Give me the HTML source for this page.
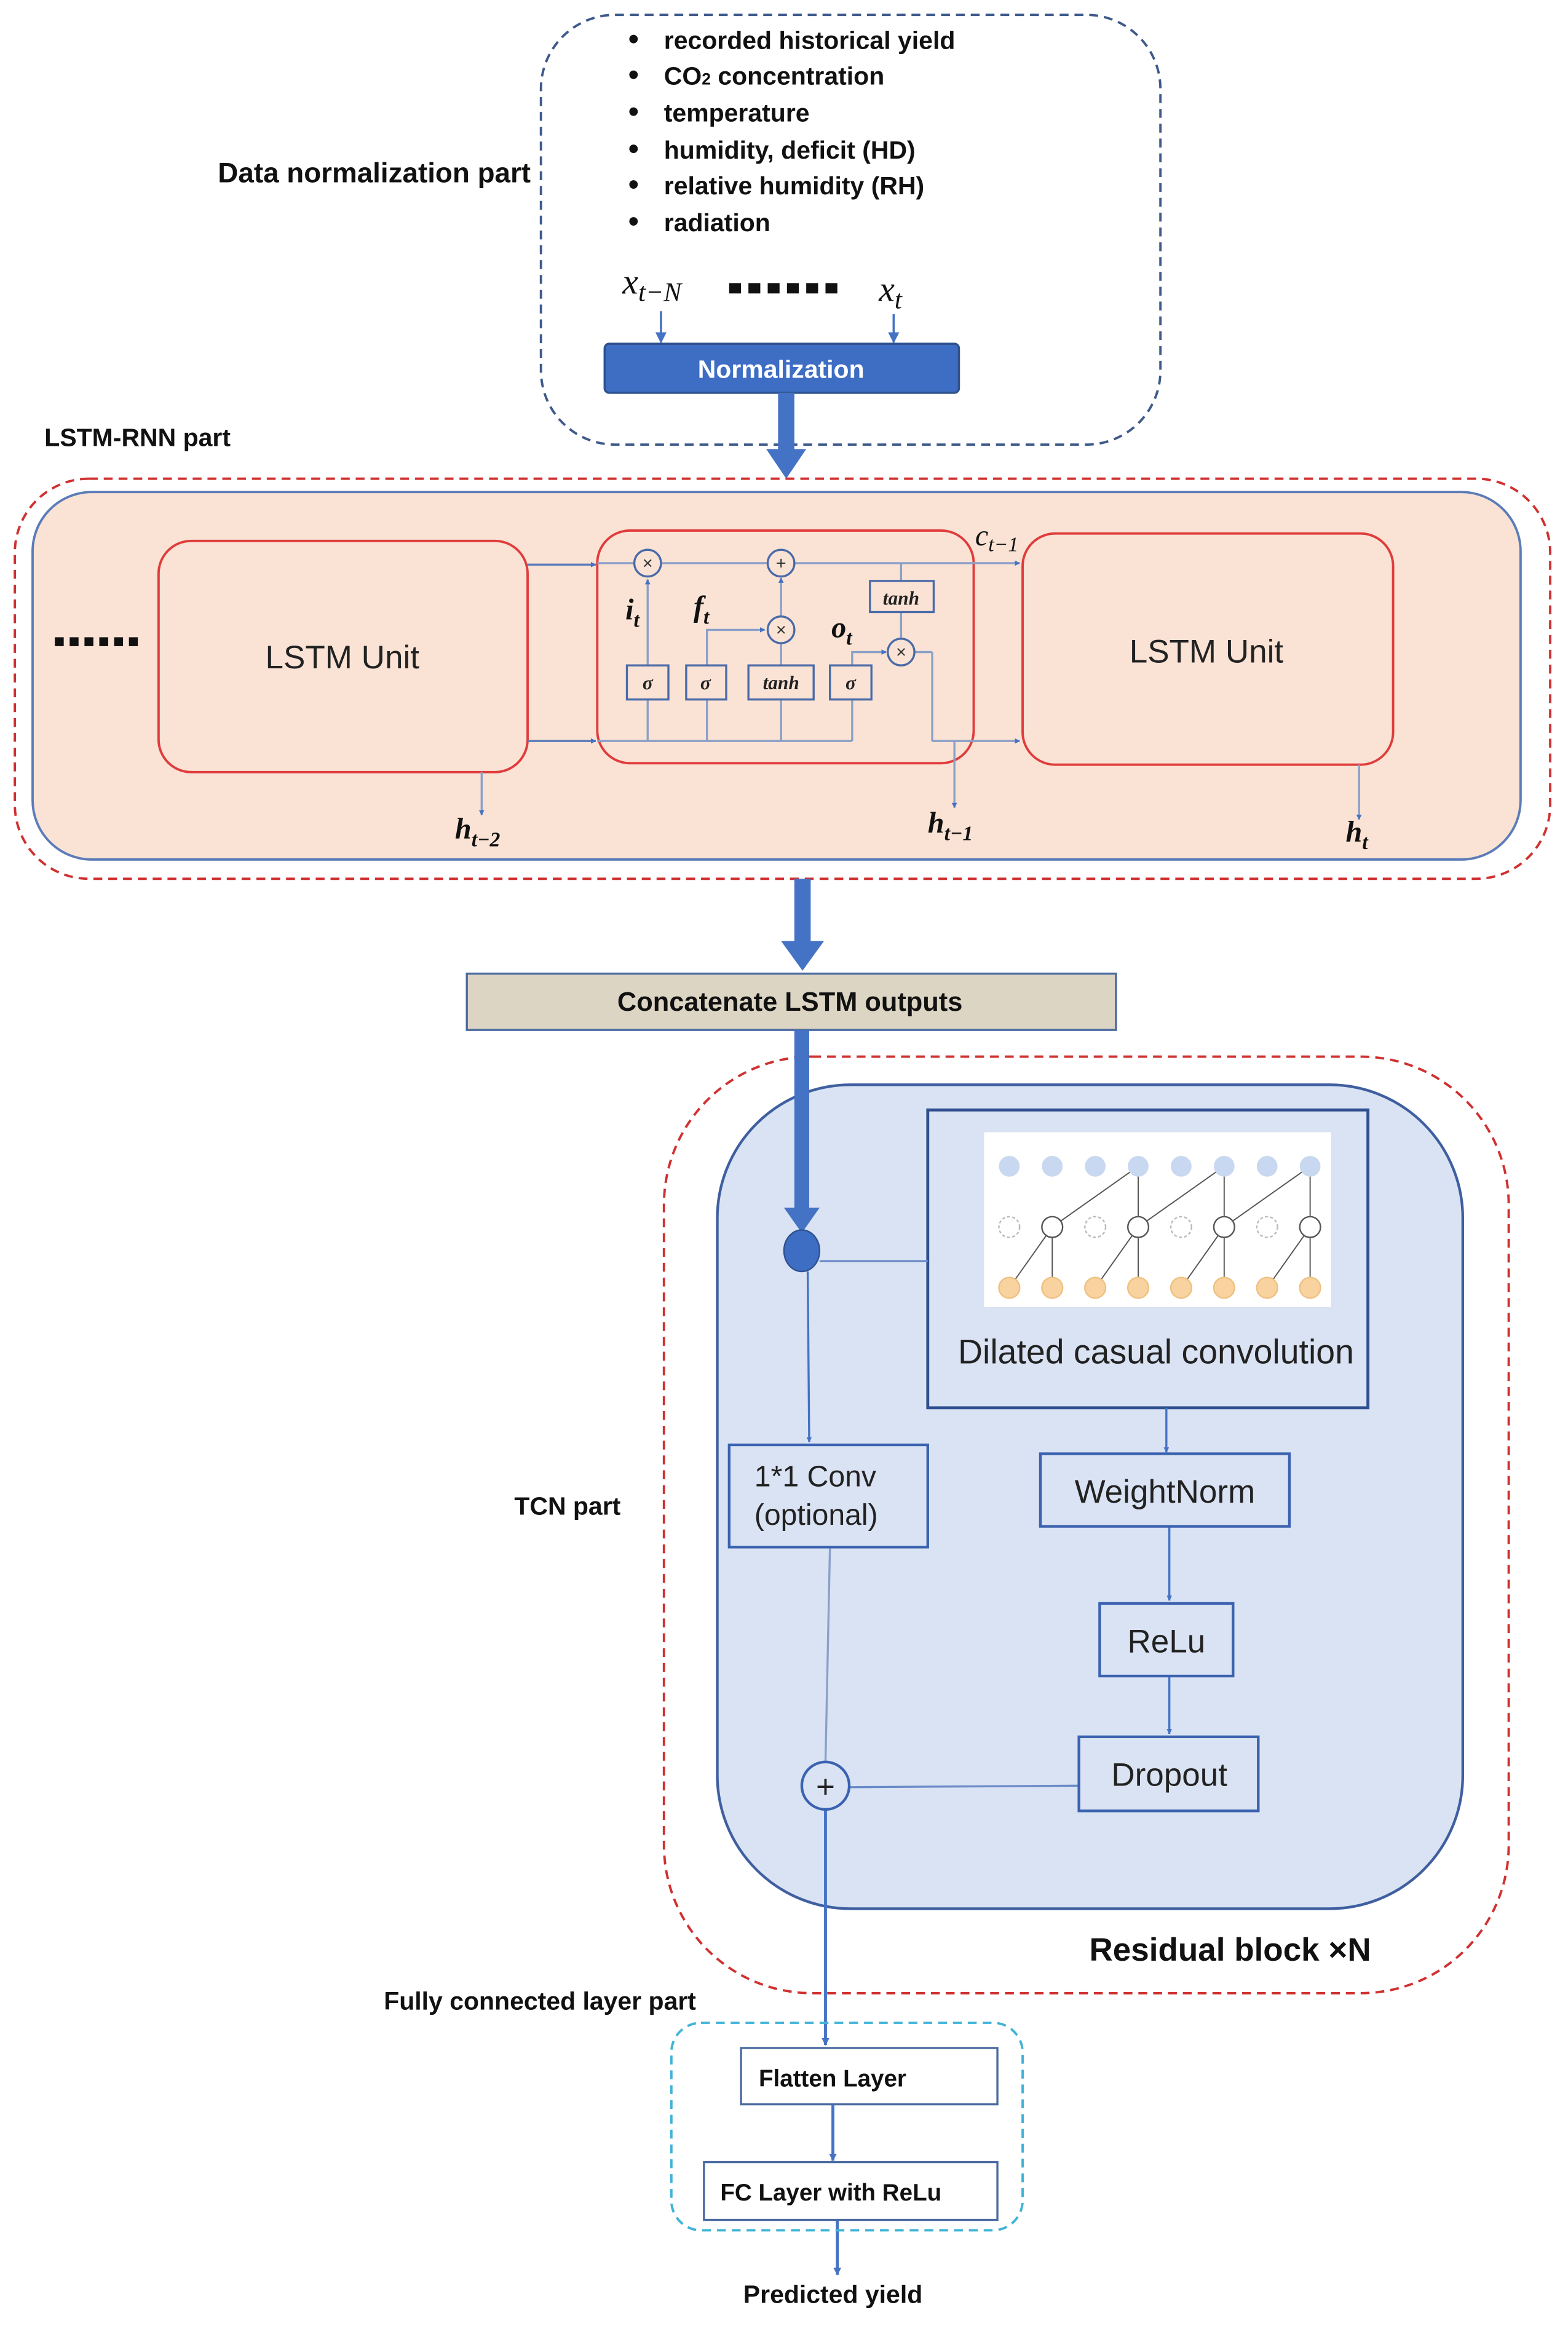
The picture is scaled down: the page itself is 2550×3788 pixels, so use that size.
<!DOCTYPE html>
<html><head><meta charset="utf-8"><style>html,body{margin:0;padding:0;background:#fff}svg{display:block}</style></head>
<body>
<svg width="2550" height="3788" viewBox="0 0 1058 1571.6" xmlns="http://www.w3.org/2000/svg" font-family="Liberation Sans, sans-serif">
<defs>
<marker id="a" viewBox="0 0 10 10" refX="9" refY="5" markerWidth="5" markerHeight="5" orient="auto"><path d="M0,0L10,5L0,10z" fill="#4472c4"/></marker>
<marker id="b" viewBox="0 0 10 10" refX="9" refY="5" markerWidth="2.6" markerHeight="2.6" orient="auto"><path d="M0,0L10,5L0,10z" fill="#4472c4"/></marker>
</defs>
<rect width="1058" height="1572" fill="#fff"/>
<rect x="365" y="10" width="418" height="290" rx="50" fill="none" stroke="#3f5a8a" stroke-width="1.6" stroke-dasharray="6,4"/>
<g font-size="17" font-weight="bold" fill="#111">
<text x="147" y="123" font-size="19">Data normalization part</text>
<g font-size="17">
<text x="448" y="33">recorded historical yield</text>
<text x="448" y="57">CO<tspan font-size="11">2</tspan> concentration</text>
<text x="448" y="82">temperature</text>
<text x="448" y="107">humidity, deficit (HD)</text>
<text x="448" y="131">relative humidity (RH)</text>
<text x="448" y="156">radiation</text>
</g>
<g font-size="20"><text x="424" y="33">•</text><text x="424" y="57">•</text><text x="424" y="82">•</text><text x="424" y="107">•</text><text x="424" y="131">•</text><text x="424" y="156">•</text></g>
<text x="30" y="301">LSTM-RNN part</text>
<text x="347" y="1022">TCN part</text>
<text x="259" y="1356">Fully connected layer part</text>
<text x="562" y="1554" text-anchor="middle">Predicted yield</text>
</g>
<g font-family="Liberation Serif, serif" font-style="italic" fill="#111">
<text x="420" y="198" font-size="24">x<tspan font-size="18" dy="5">t−N</tspan></text>
<text x="593" y="203" font-size="24">x<tspan font-size="18" dy="5">t</tspan></text>
</g>
<g fill="#111"><rect x="492" y="191" width="8" height="7"/><rect x="505" y="191" width="8" height="7"/><rect x="518" y="191" width="8" height="7"/><rect x="531" y="191" width="8" height="7"/><rect x="544" y="191" width="8" height="7"/><rect x="557" y="191" width="8" height="7"/></g>
<line x1="446" y1="210" x2="446" y2="231" stroke="#4472c4" stroke-width="1.5" marker-end="url(#a)"/>
<line x1="603" y1="212" x2="603" y2="231" stroke="#4472c4" stroke-width="1.5" marker-end="url(#a)"/>
<rect x="408" y="232" width="239" height="33" rx="3" fill="#3e6dc4" stroke="#2f528f" stroke-width="1.5"/>
<text x="527" y="255" text-anchor="middle" font-size="17" font-weight="bold" fill="#fff">Normalization</text>
<rect x="525" y="265" width="11" height="40" fill="#4472c4"/>
<path d="M517,303L544,303L530.5,323z" fill="#4472c4"/>
<rect x="10" y="323" width="1036" height="270" rx="50" fill="none" stroke="#d03030" stroke-width="1.6" stroke-dasharray="6,4"/>
<rect x="22" y="332" width="1004" height="248" rx="40" fill="#fae3d5" stroke="#5b7cb8" stroke-width="1.6"/>
<g fill="#111"><rect x="37" y="430" width="6" height="6"/><rect x="47" y="430" width="6" height="6"/><rect x="57" y="430" width="6" height="6"/><rect x="67" y="430" width="6" height="6"/><rect x="77" y="430" width="6" height="6"/><rect x="87" y="430" width="6" height="6"/></g>
<rect x="107" y="365" width="249" height="156" rx="22" fill="#fae3d5" stroke="#e03c3c" stroke-width="1.6"/>
<text x="231" y="451" text-anchor="middle" font-size="22" fill="#222">LSTM Unit</text>
<rect x="690" y="360" width="250" height="156" rx="22" fill="#fae3d5" stroke="#e03c3c" stroke-width="1.6"/>
<text x="814" y="447" text-anchor="middle" font-size="22" fill="#222">LSTM Unit</text>
<rect x="403" y="358" width="254" height="157" rx="22" fill="none" stroke="#e03c3c" stroke-width="1.6"/>
<g stroke="#8aa0c8" stroke-width="1.4" fill="none">
<line x1="356" y1="381" x2="402" y2="381" stroke="#5b7cb8" marker-end="url(#b)"/>
<line x1="403" y1="380" x2="428" y2="380"/>
<line x1="446" y1="380" x2="518" y2="380"/>
<line x1="536" y1="380" x2="688" y2="380" marker-end="url(#b)"/>
<line x1="356" y1="500" x2="402" y2="500" stroke="#5b7cb8" marker-end="url(#b)"/>
<line x1="403" y1="500" x2="575" y2="500"/>
<line x1="629" y1="500" x2="688" y2="500" marker-end="url(#b)"/>
<line x1="629" y1="440" x2="629" y2="500"/>
<line x1="617" y1="440" x2="629" y2="440"/>
<line x1="437" y1="472" x2="437" y2="500"/><line x1="437" y1="449" x2="437" y2="391" marker-end="url(#b)"/>
<line x1="477" y1="472" x2="477" y2="500"/><polyline points="477,449 477,425 516,425" marker-end="url(#b)"/>
<line x1="527" y1="472" x2="527" y2="500"/><line x1="527" y1="472" x2="527" y2="434"/><line x1="527" y1="416" x2="527" y2="390" marker-end="url(#b)"/>
<line x1="575" y1="472" x2="575" y2="500"/><polyline points="575,449 575,440 598,440" marker-end="url(#b)"/>
<line x1="608" y1="380" x2="608" y2="392"/><line x1="608" y1="413" x2="608" y2="431"/>
<line x1="644" y1="500" x2="644" y2="545" marker-end="url(#b)"/>
<line x1="325" y1="521" x2="325" y2="550" marker-end="url(#b)"/>
<line x1="917" y1="516" x2="917" y2="553" marker-end="url(#b)"/>
</g>
<g stroke="#4a6aa8" stroke-width="1.4" fill="#fae3d5">
<circle cx="437" cy="380" r="9"/><circle cx="527" cy="380" r="9"/><circle cx="527" cy="425" r="9"/><circle cx="608" cy="440" r="9"/>
<rect x="423" y="449" width="28" height="23"/><rect x="463" y="449" width="27" height="23"/><rect x="505" y="449" width="44" height="23"/><rect x="560" y="449" width="28" height="23"/><rect x="587" y="392" width="43" height="21"/>
</g>
<g font-size="12" fill="#333" text-anchor="middle"><text x="437" y="384">×</text><text x="527" y="384">+</text><text x="527" y="429">×</text><text x="608" y="444">×</text></g>
<g font-family="Liberation Serif, serif" font-style="italic" font-weight="bold" fill="#222" text-anchor="middle" font-size="13">
<text x="437" y="465">σ</text><text x="476" y="465">σ</text><text x="527" y="465">tanh</text><text x="574" y="465">σ</text><text x="608" y="408">tanh</text>
</g>
<g font-family="Liberation Serif, serif" font-style="italic" font-weight="bold" fill="#111" font-size="20">
<text x="422" y="418">i<tspan font-size="14" dy="5">t</tspan></text>
<text x="468" y="416">f<tspan font-size="14" dy="5">t</tspan></text>
<text x="561" y="430">o<tspan font-size="14" dy="5">t</tspan></text>
<text x="658" y="368" font-weight="normal">c<tspan font-size="14" dy="4">t−1</tspan></text>
<text x="307" y="566">h<tspan font-size="14" dy="5">t−2</tspan></text>
<text x="626" y="562">h<tspan font-size="14" dy="5">t−1</tspan></text>
<text x="908" y="568">h<tspan font-size="14" dy="5">t</tspan></text>
</g>
<rect x="536" y="593" width="11" height="44" fill="#4472c4"/>
<path d="M527,635L556,635L541.5,655z" fill="#4472c4"/>
<rect x="315" y="657" width="438" height="38" fill="#ddd5c4" stroke="#4a6aa0" stroke-width="1.4"/>
<text x="533" y="682" text-anchor="middle" font-size="18" font-weight="bold" fill="#111">Concatenate LSTM outputs</text>
<rect x="448" y="713" width="570" height="632" rx="100" fill="none" stroke="#d03030" stroke-width="1.6" stroke-dasharray="6,4"/>
<rect x="484" y="732" width="503" height="556" rx="90" fill="#dae3f3" stroke="#3f5fa0" stroke-width="1.8"/>
<rect x="536" y="695" width="10" height="122" fill="#4472c4"/>
<path d="M529,815L553,815L541,832z" fill="#4472c4"/>
<ellipse cx="541" cy="844" rx="12" ry="14" fill="#3e6dc4" stroke="#2f528f"/>
<rect x="626" y="749" width="297" height="201" fill="#dae3f3" stroke="#2f4f8f" stroke-width="2"/>
<rect x="664" y="764" width="234" height="118" fill="#fff"/>
<g stroke="#555" stroke-width="0.8">
<line x1="681" y1="869" x2="710" y2="828"/><line x1="710" y1="869" x2="710" y2="828"/>
<line x1="739" y1="869" x2="768" y2="828"/><line x1="768" y1="869" x2="768" y2="828"/>
<line x1="797" y1="869" x2="826" y2="828"/><line x1="826" y1="869" x2="826" y2="828"/>
<line x1="855" y1="869" x2="884" y2="828"/><line x1="884" y1="869" x2="884" y2="828"/>
<line x1="710" y1="828" x2="768" y2="787"/><line x1="768" y1="828" x2="768" y2="787"/>
<line x1="768" y1="828" x2="826" y2="787"/><line x1="826" y1="828" x2="826" y2="787"/>
<line x1="826" y1="828" x2="884" y2="787"/><line x1="884" y1="828" x2="884" y2="787"/>
</g>
<g fill="#c8d8f0"><circle cx="681" cy="787" r="7"/><circle cx="710" cy="787" r="7"/><circle cx="739" cy="787" r="7"/><circle cx="768" cy="787" r="7"/><circle cx="797" cy="787" r="7"/><circle cx="826" cy="787" r="7"/><circle cx="855" cy="787" r="7"/><circle cx="884" cy="787" r="7"/></g>
<g fill="#fff" stroke="#bbb" stroke-dasharray="2,1.5"><circle cx="681" cy="828" r="7"/><circle cx="739" cy="828" r="7"/><circle cx="797" cy="828" r="7"/><circle cx="855" cy="828" r="7"/></g>
<g fill="#fff" stroke="#555"><circle cx="710" cy="828" r="7"/><circle cx="768" cy="828" r="7"/><circle cx="826" cy="828" r="7"/><circle cx="884" cy="828" r="7"/></g>
<g fill="#f8d3a0" stroke="#f0c080"><circle cx="681" cy="869" r="7"/><circle cx="710" cy="869" r="7"/><circle cx="739" cy="869" r="7"/><circle cx="768" cy="869" r="7"/><circle cx="797" cy="869" r="7"/><circle cx="826" cy="869" r="7"/><circle cx="855" cy="869" r="7"/><circle cx="884" cy="869" r="7"/></g>
<text x="780" y="920" text-anchor="middle" font-size="23" fill="#222">Dilated casual convolution</text>
<g stroke="#4472c4" stroke-width="1.4" fill="none">
<line x1="553" y1="851" x2="626" y2="851" stroke="#6a8ac8"/>
<line x1="545" y1="858" x2="546" y2="973" marker-end="url(#b)"/>
<line x1="560" y1="1044" x2="557" y2="1189" stroke="#8aa0c8"/>
<line x1="573" y1="1206" x2="728" y2="1205" stroke="#6a8ac8"/>
<line x1="787" y1="950" x2="787" y2="980" marker-end="url(#b)"/>
<line x1="789" y1="1030" x2="789" y2="1080" marker-end="url(#b)"/>
<line x1="789" y1="1131" x2="789" y2="1170" marker-end="url(#b)"/>
<line x1="557" y1="1221" x2="557" y2="1380" stroke-width="2" marker-end="url(#b)"/>
<line x1="562" y1="1420" x2="562" y2="1458" stroke-width="2" marker-end="url(#b)"/>
<line x1="565" y1="1498" x2="565" y2="1535" stroke-width="2" marker-end="url(#b)"/>
</g>
<g fill="#dae3f3" stroke="#3a62b0" stroke-width="1.8">
<rect x="492" y="975" width="134" height="69"/>
<rect x="702" y="981" width="168" height="49"/>
<rect x="742" y="1082" width="90" height="49"/>
<rect x="728" y="1172" width="121" height="50"/>
<circle cx="557" cy="1205" r="16"/>
</g>
<g fill="#222" font-size="20">
<text x="509" y="1003">1*1 Conv</text><text x="509" y="1029">(optional)</text>
<text x="786" y="1014" text-anchor="middle" font-size="22">WeightNorm</text>
<text x="787" y="1115" text-anchor="middle" font-size="22">ReLu</text>
<text x="789" y="1205" text-anchor="middle" font-size="22">Dropout</text>
<text x="557" y="1213" text-anchor="middle" font-size="22">+</text>
</g>
<text x="735" y="1323" font-size="22" font-weight="bold" fill="#111">Residual block ×N</text>
<rect x="453" y="1365" width="237" height="140" rx="20" fill="none" stroke="#3fb3d8" stroke-width="1.6" stroke-dasharray="6,4"/>
<rect x="500" y="1382" width="173" height="38" fill="#fff" stroke="#4a6aa0" stroke-width="1.4"/>
<rect x="475" y="1459" width="198" height="39" fill="#fff" stroke="#4a6aa0" stroke-width="1.4"/>
<text x="512" y="1408" font-size="16" font-weight="bold" fill="#111">Flatten Layer</text>
<text x="486" y="1485" font-size="16" font-weight="bold" fill="#111">FC Layer with ReLu</text>
</svg>
</body></html>
